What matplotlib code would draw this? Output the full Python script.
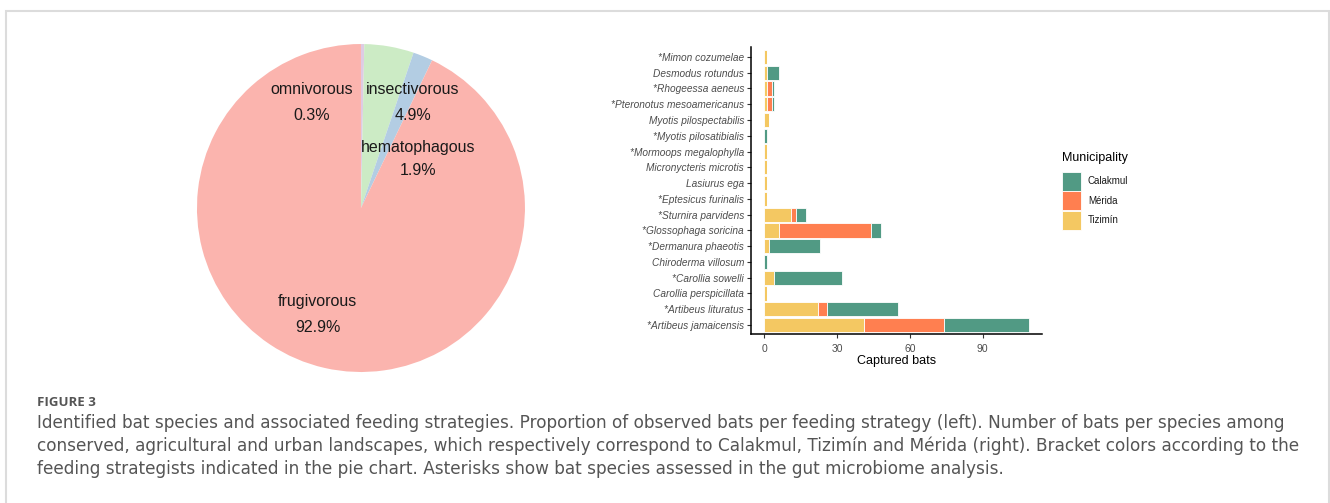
import numpy as np
from matplotlib import pyplot as plt
from matplotlib.patches import Rectangle

# feeding strategies (pie, clockwise from the top)
strategies = ["omnivorous", "insectivorous", "hematophagous", "frugivorous"]
strategy_counts = [1, 15, 6, 286]
strategy_colors = ["#DECBE4", "#CCEBC5", "#B3CDE3", "#FBB4AE"]

# captured bats per species, bottom to top
species = ["*Artibeus jamaicensis", "*Artibeus lituratus", "Carollia perspicillata",
           "*Carollia sowelli", "Chiroderma villosum", "*Dermanura phaeotis",
           "*Glossophaga soricina", "*Sturnira parvidens", "*Eptesicus furinalis",
           "Lasiurus ega", "Micronycteris microtis", "*Mormoops megalophylla",
           "*Myotis pilosatibialis", "Myotis pilospectabilis", "*Pteronotus mesoamericanus",
           "*Rhogeessa aeneus", "Desmodus rotundus", "*Mimon cozumelae"]
tizimin = [41, 22, 1, 4, 0, 2, 6, 11, 1, 1, 1, 1, 0, 2, 1, 1, 1, 1]
merida = [33, 4, 0, 0, 0, 0, 38, 2, 0, 0, 0, 0, 0, 0, 2, 2, 0, 0]
calakmul = [35, 29, 0, 28, 1, 21, 4, 4, 0, 0, 0, 0, 1, 0, 1, 1, 5, 0]

municipalities = ["Calakmul", "Mérida", "Tizimín"]
mun_colors = {"Calakmul": "#519A84", "Mérida": "#FF7F50", "Tizimín": "#F4C862"}

plt.rcParams['font.family'] = ['Liberation Sans', 'DejaVu Sans']

W, H = 1330, 503
fig = plt.figure(figsize=(W / 100, H / 100), dpi=100)


def fx(px):
    return px / W


def fy(py):
    return 1 - py / H


# pie chart
ax1 = fig.add_axes([0.1481, 0.2604, 0.2466, 0.6521])
ax1.pie(strategy_counts, colors=strategy_colors, startangle=90, counterclock=False,
        radius=1, wedgeprops=dict(linewidth=0))
ax1.set_xlim(-1, 1)
ax1.set_ylim(-1, 1)
ax1.set_aspect('equal')
ax1.axis('off')

pcts = 100 * np.array(strategy_counts) / sum(strategy_counts)
label_pos = [(-0.30, 0.72, 0.567), (0.317, 0.72, 0.567),
             (0.348, 0.372, 0.226), (-0.265, -0.573, -0.726)]
for name, p, (lx, ly1, ly2) in zip(strategies, pcts, label_pos):
    ax1.text(lx, ly1, name, ha='center', va='center', fontsize=11.5, color='#1a1a1a')
    ax1.text(lx, ly2, f"{p:.1f}%", ha='center', va='center', fontsize=11.5, color='#1a1a1a')

# stacked bars
ax2 = fig.add_axes([0.5647, 0.335, 0.2188, 0.5706])
y = np.arange(len(species))
left = np.zeros(len(species))
for name, vals in [("Tizimín", tizimin), ("Mérida", merida), ("Calakmul", calakmul)]:
    ax2.barh(y, vals, left=left, height=0.9, color=mun_colors[name],
             edgecolor='white', linewidth=0.6)
    left += np.array(vals)

ax2.set_yticks(y)
ax2.set_yticklabels(species, fontstyle='italic', fontsize=7.3, color='#4D4D4D')
ax2.set_xticks([0, 30, 60, 90])
ax2.tick_params(axis='x', labelsize=7.5, labelcolor='#4D4D4D', length=3, color='#333333')
ax2.tick_params(axis='y', length=3, color='#333333', pad=2)
ax2.set_xlim(-5.45, 114.45)
ax2.set_ylim(-0.6, len(species) - 0.4)
ax2.set_xlabel("Captured bats", fontsize=9, labelpad=1)
for s in ['top', 'right']:
    ax2.spines[s].set_visible(False)
for s in ['left', 'bottom']:
    ax2.spines[s].set_linewidth(1.1)

# legend drawn as keys + labels
fig.text(fx(1062), fy(158), "Municipality", fontsize=9, va='center', ha='left')
for i, m in enumerate(municipalities):
    top = 172 + 19.3 * i
    fig.add_artist(Rectangle((fx(1062), fy(top + 19)), 19 / W, 19 / H,
                             transform=fig.transFigure, facecolor=mun_colors[m],
                             edgecolor='white', linewidth=0.6))
    fig.text(fx(1088), fy(top + 9.5), m, fontsize=7, va='center', ha='left', color='#1a1a1a')

# caption
fig.text(fx(37), fy(402), "FIGURE 3", fontsize=9.5, color='#555555',
         family=['Open Sans', 'DejaVu Sans'], fontweight='bold', va='center')
caption = [
    "Identified bat species and associated feeding strategies. Proportion of observed bats per feeding strategy (left). Number of bats per species among",
    "conserved, agricultural and urban landscapes, which respectively correspond to Calakmul, Tizimín and Mérida (right). Bracket colors according to the",
    "feeding strategists indicated in the pie chart. Asterisks show bat species assessed in the gut microbiome analysis.",
]
for i, line in enumerate(caption):
    fig.text(fx(37), fy(423 + 23 * i), line, fontsize=12.2, color='#555555',
             family=['DejaVu Sans'], va='center')

# frame
fig.patches.append(Rectangle((fx(6), -0.05), 1323 / W, 1.05 - 11 / H,
                             transform=fig.transFigure, fill=False,
                             edgecolor='#dcdcdc', linewidth=1.5))

fig.savefig("out.png", dpi=100)
